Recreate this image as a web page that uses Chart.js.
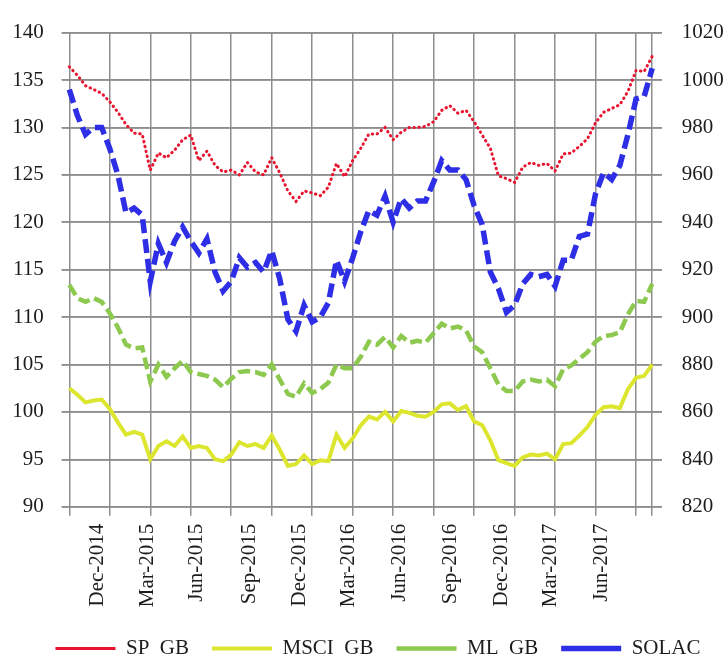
<!DOCTYPE html>
<html>
<head>
<meta charset="utf-8">
<script src="https://cdn.jsdelivr.net/npm/chart.js@4.4.1/dist/chart.umd.min.js"></script>
<style>
  html, body { margin: 0; padding: 0; background: #ffffff; }
  #wrap { width: 725px; height: 659px; }
</style>
</head>
<body>
<div id="wrap"><canvas id="chart" width="725" height="659"></canvas></div>
<script>
// Observation index (trading days since start), sampled every 10 sessions
const obsIndex = [0, 10, 20, 30, 40, 50, 60, 70, 80, 90, 100, 110, 120, 130, 140, 150, 160, 170, 180, 190,
  200, 210, 220, 230, 240, 250, 260, 270, 280, 290, 300, 310, 320, 330, 340, 350, 360, 370, 380, 390,
  400, 410, 420, 430, 440, 450, 460, 470, 480, 490, 500, 510, 520, 530, 540, 550, 560, 570, 580, 590,
  600, 610, 620, 630, 640, 650, 660, 670, 680, 690, 700, 710, 720];

// Left axis series
const spGB = [136.4, 135.5, 134.4, 134.0, 133.6, 132.7, 131.6, 130.3, 129.4, 129.3,
  125.5, 127.3, 126.8, 127.6, 128.7, 129.2, 126.5, 127.5, 126.0, 125.3,
  125.5, 125.0, 126.3, 125.3, 125.0, 126.8, 125.2, 123.3, 122.2, 123.3,
  123.1, 122.8, 123.7, 126.2, 124.8, 126.5, 127.8, 129.3, 129.3, 130.0,
  128.7, 129.5, 130.0, 130.0, 130.1, 130.6, 131.8, 132.3, 131.5, 131.8,
  130.6, 129.2, 127.8, 124.9, 124.6, 124.2, 125.8, 126.3, 126.0, 126.2,
  125.4, 127.2, 127.3, 128.0, 128.8, 130.5, 131.6, 132.0, 132.4, 133.8,
  136.0, 135.9, 137.5];

const msciGB = [102.5, 101.8, 101.0, 101.2, 101.3, 100.3, 98.9, 97.6, 97.9, 97.6,
  95.0, 96.4, 96.9, 96.4, 97.4, 96.2, 96.4, 96.2, 95.0, 94.8,
  95.5, 96.8, 96.4, 96.6, 96.2, 97.5, 96.0, 94.3, 94.5, 95.4,
  94.5, 94.9, 94.8, 97.6, 96.2, 97.2, 98.6, 99.5, 99.2, 100.0,
  99.0, 100.1, 99.9, 99.6, 99.5, 100.0, 100.8, 100.9, 100.2, 100.6,
  99.0, 98.6, 97.0, 94.9, 94.6, 94.3, 95.2, 95.5, 95.4, 95.6,
  95.0, 96.6, 96.7, 97.5, 98.4, 99.7, 100.5, 100.6, 100.4, 102.4,
  103.6, 103.8, 105.0];

const mlGB = [113.4, 112.0, 111.6, 112.0, 111.6, 110.4, 108.9, 107.1, 106.7, 106.8,
  103.2, 105.0, 103.7, 104.6, 105.4, 104.2, 104.0, 103.8, 103.4, 102.6,
  103.5, 104.2, 104.3, 104.2, 103.9, 105.0, 103.4, 101.9, 101.6, 103.0,
  102.0, 102.4, 103.1, 105.0, 104.6, 104.6, 105.8, 107.4, 107.1, 107.9,
  106.8, 108.0, 107.3, 107.5, 107.3, 108.3, 109.3, 108.8, 109.0, 108.6,
  106.9, 106.3, 104.6, 102.9, 102.2, 102.2, 103.2, 103.4, 103.2, 103.4,
  102.7, 104.5, 104.9, 105.6, 106.3, 107.4, 108.0, 108.1, 108.4, 110.3,
  111.7, 111.6, 113.5];

// Right axis series
const solac = [996, 985, 977, 980, 980, 971, 960, 944, 946, 943,
  915, 931, 923, 932, 938, 932, 927, 933, 919, 911,
  915, 925, 921, 923, 919, 928, 916, 899, 894, 905,
  898, 900, 906, 924, 915, 925, 936, 945, 943, 951,
  940, 950, 946, 949, 949, 957, 966, 962, 962, 958,
  947, 939, 919, 912, 902, 905, 914, 918, 917, 918,
  913, 924, 924, 934, 935, 952, 961, 958, 964, 977,
  992, 993, 1005];

// Date labels and the session at which each month starts
const monthLabels = ['Dec-2014', 'Mar-2015', 'Jun-2015', 'Sep-2015', 'Dec-2015', 'Mar-2016',
  'Jun-2016', 'Sep-2016', 'Dec-2016', 'Mar-2017', 'Jun-2017'];
const monthIndex = [35, 96, 157, 223, 284, 345, 408, 471, 534, 594, 657];

// Vertical grid every 50 sessions, plus the last session
const gridIndex = [0, 50, 100, 150, 200, 250, 300, 350, 400, 450, 500, 550, 600, 650, 700, 720];

const leftTicks = [90, 95, 100, 105, 110, 115, 120, 125, 130, 135, 140];
const rightTicks = [820, 840, 860, 880, 900, 920, 940, 960, 980, 1000, 1020];

const toPoints = (vals) => vals.map((v, i) => ({ x: obsIndex[i], y: v }));

const labelAt = new Map(monthIndex.map((v, i) => [v, monthLabels[i]]));
const gridSet = new Set(gridIndex);

const FONT = 'Liberation Serif';
const TXT = '#1c1c1c';
const GRID = '#8e8e8e';

// Nudge the legend row to the right of the canvas centre
const legendShift = {
  id: 'legendShift',
  afterLayout(chart) {
    const lg = chart.legend;
    if (lg) { lg.left += 31; }
  }
};

// Horizontal rules at each left-axis tick, laid underneath everything already drawn
const valueRules = {
  id: 'valueRules',
  afterDraw(chart) {
    const { ctx, chartArea, scales } = chart;
    const ys = scales.y;
    ctx.save();
    ctx.globalCompositeOperation = 'destination-over';
    ctx.strokeStyle = GRID;
    ctx.lineWidth = 1.5;
    ctx.setLineDash([]);
    leftTicks.forEach((t) => {
      const py = Math.round(ys.getPixelForValue(t) - 0.75) + 0.75;
      ctx.beginPath();
      ctx.moveTo(chartArea.left, py);
      ctx.lineTo(chartArea.right, py);
      ctx.stroke();
    });
    ctx.restore();
  }
};

const chart = new Chart(document.getElementById('chart'), {
  type: 'line',
  plugins: [legendShift, valueRules],
  data: {
    datasets: [
      {
        label: 'SP  GB',
        data: toPoints(spGB),
        borderColor: '#e8132f',
        borderWidth: 3,
        borderDash: [0.5, 4.5],
        borderCapStyle: 'round',
        yAxisID: 'y'
      },
      {
        label: 'MSCI  GB',
        data: toPoints(msciGB),
        borderColor: '#dde62e',
        borderWidth: 4,
        yAxisID: 'y'
      },
      {
        label: 'ML  GB',
        data: toPoints(mlGB),
        borderColor: '#8dc94f',
        borderWidth: 4.5,
        borderDash: [12, 5],
        yAxisID: 'y'
      },
      {
        label: 'SOLAC',
        data: toPoints(solac),
        borderColor: '#2e2ee6',
        borderWidth: 5.5,
        borderDash: [14, 6],
        yAxisID: 'y2'
      }
    ]
  },
  options: {
    responsive: false,
    animation: false,
    devicePixelRatio: 1,
    layout: { padding: { left: 0, right: 0, top: 29, bottom: -10 } },
    elements: {
      point: { radius: 0, hoverRadius: 0 },
      line: { tension: 0, fill: false }
    },
    plugins: {
      tooltip: { enabled: false },
      legend: {
        position: 'bottom',
        labels: {
          usePointStyle: true,
          pointStyle: 'line',
          pointStyleWidth: 60,
          padding: 23,
          color: TXT,
          font: { family: FONT, size: 21 }
        }
      }
    },
    scales: {
      x: {
        type: 'linear',
        min: -9.4,
        max: 731.7,
        afterBuildTicks: (scale) => {
          const vals = gridIndex.concat(monthIndex).sort((a, b) => a - b);
          scale.ticks = vals.map(v => ({ value: v }));
        },
        afterFit: (scale) => { scale.height = 108.3; },
        border: { display: false },
        grid: {
          drawTicks: true,
          tickLength: 9,
          lineWidth: 1.5,
          color: (ctx) => (ctx.tick && gridSet.has(ctx.tick.value)) ? GRID : 'rgba(0,0,0,0)',
          tickColor: (ctx) => (ctx.tick && gridSet.has(ctx.tick.value)) ? GRID : 'rgba(0,0,0,0)'
        },
        ticks: {
          autoSkip: false,
          minRotation: 90,
          maxRotation: 90,
          padding: 8,
          color: TXT,
          font: { family: FONT, size: 21 },
          callback: (value) => labelAt.get(value) || ''
        }
      },
      y: {
        type: 'linear',
        position: 'left',
        min: 90,
        max: 140,
        afterBuildTicks: (scale) => { scale.ticks = leftTicks.map(v => ({ value: v })); },
        afterFit: (scale) => { scale.width = 61.7; },
        border: { display: false },
        grid: { drawOnChartArea: true, drawTicks: false, color: GRID, lineWidth: 1.5 },
        ticks: {
          autoSkip: false,
          padding: 18,
          color: TXT,
          font: { family: FONT, size: 21 },
          callback: (value) => String(value)
        }
      },
      y2: {
        type: 'linear',
        position: 'right',
        min: 820,
        max: 1020,
        afterBuildTicks: (scale) => { scale.ticks = rightTicks.map(v => ({ value: v })); },
        afterFit: (scale) => { scale.width = 63.3; },
        border: { display: false },
        grid: { drawOnChartArea: true, drawTicks: false, color: GRID, lineWidth: 1.5 },
        ticks: {
          autoSkip: false,
          padding: 20,
          color: TXT,
          font: { family: FONT, size: 21 },
          callback: (value) => String(value)
        }
      }
    }
  }
});
</script>
</body>
</html>
